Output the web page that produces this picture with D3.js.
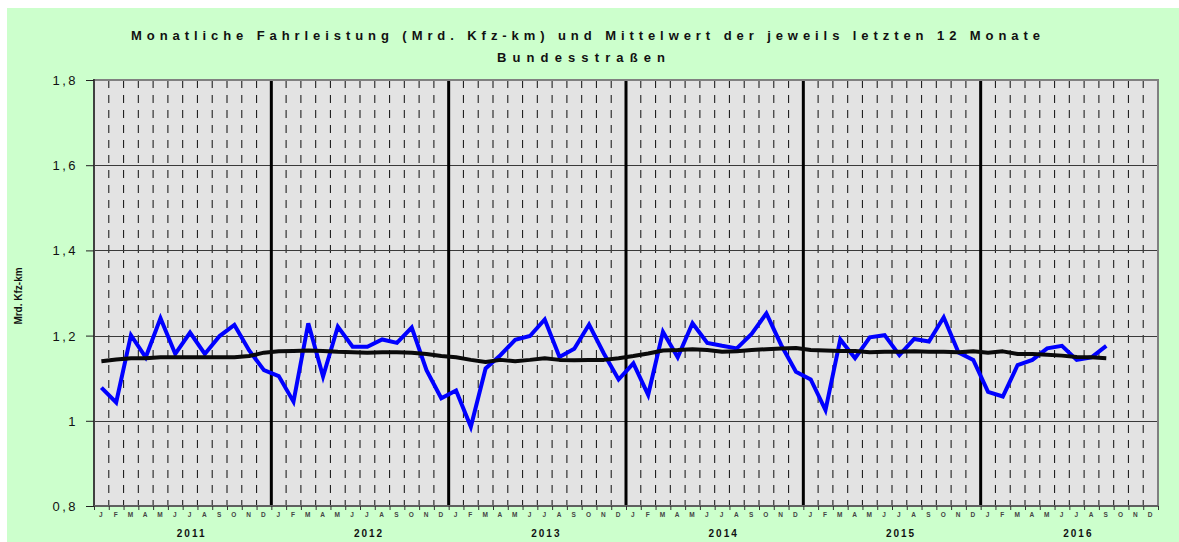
<!DOCTYPE html>
<html>
<head>
<meta charset="utf-8">
<script src="https://cdn.jsdelivr.net/npm/d3@7"></script>
<style>
html,body{margin:0;padding:0;background:#fff;}
svg{display:block;font-family:"Liberation Sans",Arial,sans-serif;}
</style>
</head>
<body>
<svg id="chart" width="1179" height="542"></svg>
<script>
// ---- data ----
const years = ["2011","2012","2013","2014","2015","2016"];
const monthLetters = ["J","F","M","A","M","J","J","A","S","O","N","D"];
const yTicks = [0.8, 1.0, 1.2, 1.4, 1.6, 1.8];
// monthly driving performance (bn vehicle-km), Jan 2011 .. Sep 2016
const monthly = [
  1.078, 1.043, 1.201, 1.149, 1.241, 1.157, 1.207, 1.157, 1.199, 1.225, 1.165, 1.119,
  1.105, 1.045, 1.229, 1.104, 1.221, 1.174, 1.174, 1.191, 1.183, 1.219, 1.119, 1.053,
  1.071, 0.986, 1.123, 1.154, 1.190, 1.199, 1.238, 1.150, 1.169, 1.226, 1.158, 1.097,
  1.135, 1.061, 1.209, 1.149, 1.229, 1.183, 1.176, 1.170, 1.204, 1.252, 1.178, 1.115,
  1.097, 1.025, 1.191, 1.147, 1.196, 1.201, 1.154, 1.192, 1.186, 1.243, 1.160, 1.143,
  1.068, 1.057, 1.131, 1.143, 1.170, 1.176, 1.143, 1.149, 1.176
];
// mean of the last 12 months
const mean12 = [
  1.140, 1.144, 1.147, 1.147, 1.149, 1.149, 1.149, 1.149, 1.149, 1.149, 1.152, 1.160,
  1.163, 1.164, 1.165, 1.164, 1.162, 1.161, 1.160, 1.161, 1.161, 1.160, 1.157, 1.152,
  1.149, 1.143, 1.138, 1.143, 1.140, 1.143, 1.147, 1.143, 1.142, 1.143, 1.143, 1.147,
  1.152, 1.158, 1.165, 1.166, 1.168, 1.166, 1.162, 1.163, 1.166, 1.168, 1.170, 1.171,
  1.166, 1.165, 1.164, 1.164, 1.161, 1.162, 1.162, 1.163, 1.162, 1.162, 1.161, 1.163,
  1.160, 1.163, 1.157, 1.157, 1.155, 1.153, 1.150, 1.149, 1.147
];
const titleLines = ["Monatliche Fahrleistung (Mrd. Kfz-km) und Mittelwert der jeweils letzten 12 Monate","Bundesstraßen"];
const yTitle = "Mrd. Kfz-km";

// ---- layout ----
const svg = d3.select("#chart");
const L = 94, R = 1158, T = 80, B = 506;
const nMonths = years.length * 12;
const x = d3.scaleLinear().domain([0, nMonths]).range([L, R]);
const y = d3.scaleLinear().domain([0.8, 1.8]).range([B, T]);
const fmt = v => (Math.abs(v - 1) < 1e-9 ? "1" : d3.format(".1f")(v).replace(".", ","));

// background
svg.append("rect").attr("x", 7).attr("y", 8).attr("width", 1179 - 7).attr("height", 542 - 8).attr("fill", "#ccffcc");
svg.append("rect").attr("x", L).attr("y", T).attr("width", R - L).attr("height", B - T).attr("fill", "#e3e3e3");

// dashed month lines
const monthBounds = d3.range(1, nMonths).filter(m => m % 12 !== 0);
svg.append("g").selectAll("line").data(monthBounds).join("line")
  .attr("x1", d => x(d)).attr("x2", d => x(d))
  .attr("y1", T).attr("y2", B)
  .attr("stroke", "#222").attr("stroke-width", 1.1)
  .attr("stroke-dasharray", "8,7");

// horizontal grid
svg.append("g").selectAll("line").data(yTicks.filter(v => v > 0.85 && v < 1.75)).join("line")
  .attr("x1", L).attr("x2", R)
  .attr("y1", d => Math.round(y(d)) + 0.5).attr("y2", d => Math.round(y(d)) + 0.5)
  .attr("stroke", "#3a3a3a").attr("stroke-width", 1);

// year separators
svg.append("g").selectAll("line").data(d3.range(12, nMonths, 12)).join("line")
  .attr("x1", d => x(d)).attr("x2", d => x(d))
  .attr("y1", T).attr("y2", B)
  .attr("stroke", "#000").attr("stroke-width", 3);

// plot border
svg.append("rect").attr("x", L).attr("y", T).attr("width", R - L).attr("height", B - T)
  .attr("fill", "none").attr("stroke", "#808080").attr("stroke-width", 2);
svg.append("line").attr("x1", L).attr("x2", L).attr("y1", T - 1).attr("y2", B + 1)
  .attr("stroke", "#404040").attr("stroke-width", 2);
svg.append("line").attr("x1", L).attr("x2", R).attr("y1", B).attr("y2", B)
  .attr("stroke", "#606060").attr("stroke-width", 2);

// y axis
const yAxis = d3.axisLeft(y).tickValues(yTicks).tickFormat(fmt).tickSize(8).tickSizeOuter(0);
const gy = svg.append("g").attr("transform", `translate(${L},0)`).call(yAxis);
gy.select(".domain").remove();
gy.selectAll(".tick line").attr("stroke", "#222");
gy.selectAll(".tick text")
  .attr("x", -16).attr("dy", "0.35em")
  .attr("font-size", 13).attr("fill", "#111").attr("letter-spacing", "2.5px")
  .attr("font-family", "Liberation Sans, Arial, sans-serif");

// x ticks at month boundaries
const xAxis = d3.axisBottom(x).tickValues(d3.range(0, nMonths + 1)).tickSize(4).tickFormat("").tickSizeOuter(0);
const gx = svg.append("g").attr("transform", `translate(0,${B})`).call(xAxis);
gx.select(".domain").remove();
gx.selectAll(".tick line").attr("stroke", "#333");

// month letters
svg.append("g").selectAll("text").data(d3.range(nMonths)).join("text")
  .attr("x", d => x(d + 0.5) - 0.5).attr("y", 517)
  .attr("text-anchor", "middle").attr("font-size", 6.5).attr("font-weight", "bold")
  .attr("fill", "#444").text(d => monthLetters[d % 12]);

// year labels
svg.append("g").selectAll("text").data(years).join("text")
  .attr("x", (d, i) => x(i * 12 + 6) + 9).attr("y", 537)
  .attr("text-anchor", "middle").attr("font-size", 10).attr("font-weight", "bold")
  .attr("letter-spacing", "2px").attr("fill", "#111").text(d => d);

// lines
const line = d3.line().x((d, i) => x(i + 0.5)).y(d => y(d));
svg.append("path").datum(monthly).attr("d", line)
  .attr("fill", "none").attr("stroke", "#0000ff").attr("stroke-width", 4).attr("stroke-linejoin", "miter");
svg.append("path").datum(mean12).attr("d", line)
  .attr("fill", "none").attr("stroke", "#0a0a0a").attr("stroke-width", 4).attr("stroke-linejoin", "round");

// title
svg.append("text").attr("x", 131).attr("y", 40)
  .attr("font-size", 13).attr("font-weight", "bold").attr("fill", "#111")
  .attr("textLength", 909).attr("lengthAdjust", "spacing").text(titleLines[0]);
svg.append("text").attr("x", 497).attr("y", 62)
  .attr("font-size", 13).attr("font-weight", "bold").attr("fill", "#111")
  .attr("textLength", 168).attr("lengthAdjust", "spacing").text(titleLines[1]);

// y title
svg.append("text").attr("transform", "translate(21.5,296) rotate(-90)")
  .attr("text-anchor", "middle").attr("font-size", 10).attr("font-weight", "bold")
  .attr("fill", "#111").text(yTitle);
</script>
</body>
</html>
